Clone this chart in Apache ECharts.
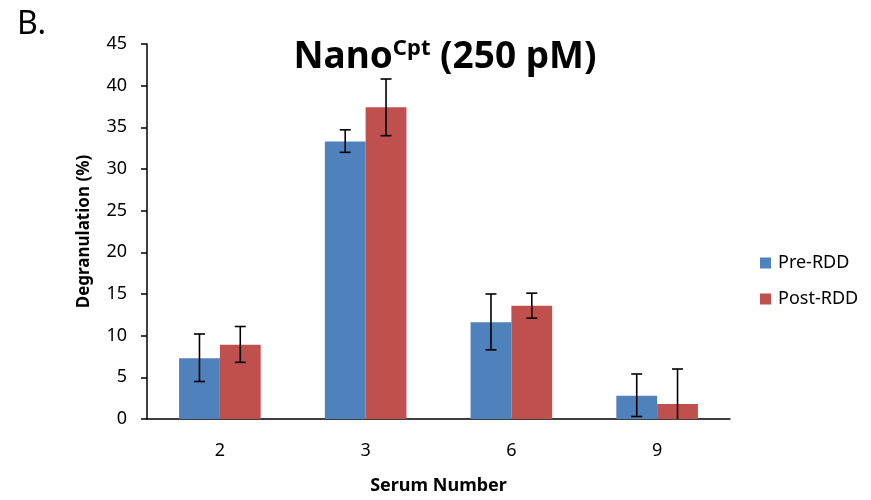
<!DOCTYPE html>
<html>
<head>
<meta charset="utf-8">
<script src="https://cdn.jsdelivr.net/npm/echarts@6/dist/echarts.min.js"></script>
<style>
  html, body { margin: 0; padding: 0; background: #fff; }
</style>
</head>
<body>
<div id="chart" style="width:871px;height:500px"></div>
<script>
// data
var serums = ['2', '3', '6', '9'];
var preRDD = [7.3, 33.3, 11.6, 2.8];
var preLow = [4.5, 32.0, 8.3, 0.3];
var preHigh = [10.2, 34.7, 15.0, 5.4];
var postRDD = [8.9, 37.4, 13.6, 1.8];
var postLow = [6.8, 34.0, 12.1, -2.4];
var postHigh = [11.1, 40.8, 15.1, 6.0];
var yTicks = [0, 5, 10, 15, 20, 25, 30, 35, 40, 45];

var font = 'Noto Sans';
var gapPct = 0.44;

// error bar data: [catIndex, low, high, side]
var errData = [];
for (var i = 0; i < serums.length; i++) {
  errData.push([i, preLow[i], preHigh[i], -1]);
  errData.push([i, postLow[i], postHigh[i], 1]);
}

function renderErr(params, api) {
  var idx = api.value(0);
  var lo = api.coord([idx, api.value(1)]);
  var hi = api.coord([idx, api.value(2)]);
  var band = api.size([1, 0])[0];
  var bw = band * (1 - gapPct) / 2;
  var x = lo[0] + api.value(3) * bw / 2;
  var cap = 5.5;
  var style = { stroke: '#000', lineWidth: 1.6 };
  var kids = [
    { type: 'line', shape: { x1: x, y1: lo[1], x2: x, y2: hi[1] }, style: style },
    { type: 'line', shape: { x1: x - cap, y1: hi[1], x2: x + cap, y2: hi[1] }, style: style }
  ];
  if (api.value(1) >= 0) {
    kids.push({ type: 'line', shape: { x1: x - cap, y1: lo[1], x2: x + cap, y2: lo[1] }, style: style });
  }
  return { type: 'group', children: kids };
}

var chart = echarts.init(document.getElementById('chart'));
chart.setOption({
  animation: false,
  backgroundColor: '#fff',
  title: [{
    text: '{n|Nano}{s|Cpt}{n| (250 pM)}',
    left: 440, top: 33, textAlign: 'center',
    textStyle: {
      rich: {
        n: { fontFamily: font, fontWeight: 'bold', fontSize: 37, color: '#000', verticalAlign: 'bottom' },
        s: { fontFamily: font, fontWeight: 'bold', fontSize: 22, color: '#000', verticalAlign: 'top', padding: [0, 0, 16, 0] }
      }
    }
  }, {
    text: 'B.',
    left: 12, top: 4,
    textStyle: { fontFamily: font, fontWeight: 'normal', fontSize: 32, color: '#000' }
  }],
  legend: {
    orient: 'vertical',
    left: 755, top: 249,
    itemWidth: 11, itemHeight: 11, itemGap: 18,
    icon: 'rect',
    textStyle: { fontFamily: font, fontSize: 18, color: '#000', padding: [0, 0, 0, 2] },
    data: ['Pre-RDD', 'Post-RDD']
  },
  grid: { left: 147, right: 141, top: 44, bottom: 78 },
  xAxis: {
    type: 'category',
    data: serums,
    name: 'Serum Number',
    nameLocation: 'middle',
    nameGap: 58,
    nameTextStyle: { fontFamily: font, fontWeight: 'bold', fontSize: 18, color: '#000' },
    axisLine: { lineStyle: { color: '#000', width: 1.5 } },
    axisTick: { length: 6, lineStyle: { color: '#000', width: 1.5 } },
    axisLabel: { fontFamily: font, fontSize: 18, color: '#000', margin: 23 }
  },
  yAxis: {
    type: 'value',
    min: 0, max: 45, interval: 5,
    name: 'Degranulation (%)',
    nameLocation: 'middle',
    nameGap: 54,
    nameTextStyle: { fontFamily: font, fontWeight: 'bold', fontSize: 17, color: '#000' },
    axisLine: { show: true, lineStyle: { color: '#000', width: 1.5 } },
    axisTick: { show: true, length: 6, lineStyle: { color: '#000', width: 1.5 } },
    splitLine: { show: false },
    axisLabel: {
      fontFamily: font, fontSize: 18, color: '#000', margin: 20,
      formatter: function (v) { return yTicks.indexOf(v) >= 0 ? String(v) : ''; }
    }
  },
  series: [{
    name: 'Pre-RDD', type: 'bar', data: preRDD,
    barGap: '0%', barCategoryGap: (gapPct * 100) + '%',
    itemStyle: { color: '#4F81BD' }
  }, {
    name: 'Post-RDD', type: 'bar', data: postRDD,
    barGap: '0%', barCategoryGap: (gapPct * 100) + '%',
    itemStyle: { color: '#C0504D' }
  }, {
    type: 'custom', data: errData, renderItem: renderErr, clip: true, z: 10,
    encode: { x: 0, y: [1, 2] }
  }]
});
</script>
</body>
</html>
